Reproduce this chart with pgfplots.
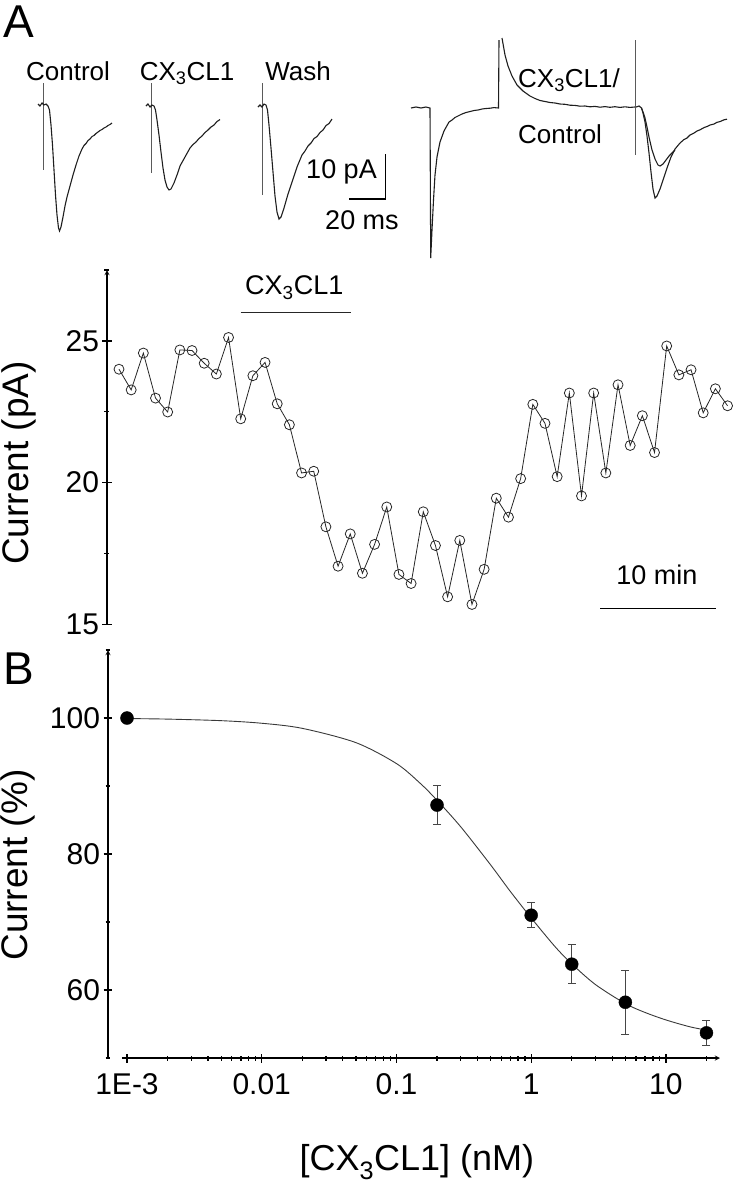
\documentclass[border=0pt]{standalone}
\usepackage{fontspec}
\setmainfont{Liberation Sans}
\usepackage{pgfplots}
\pgfplotsset{compat=1.18}
\definecolor{trace}{RGB}{30,30,30}
\definecolor{artef}{RGB}{90,90,90}
\newcommand{\cx}{CX\textsubscript{3}CL1}
\newcommand{\fs}[1]{\fontsize{#1}{#1}\selectfont}
\pgfplotsset{
  panel/.style={scale only axis, clip=false, anchor=south west,
    axis line style={-, line width=1.3pt}, tick style={black, line width=1.3pt},
    tick align=outside, major tick length=9pt, minor tick length=5pt,
    tick label style={font=\fs{30}},
    /pgf/number format/assume math mode=true},
}
\begin{document}
\begin{tikzpicture}[x=1pt,y=1pt]
\useasboundingbox (0pt,0pt) rectangle (734pt,-1200pt);
\node[anchor=base west, inner sep=0pt, font=\fs{46}] at (3pt,-37pt) {A};
\node[anchor=base west, inner sep=0pt, font=\fs{46}] at (3pt,-684pt) {B};

% sample traces, coordinates read in pixels of the figure
\begin{axis}[at={(0pt,0pt)}, anchor=north west, scale only axis, hide axis, clip=false,
  width=734pt, height=270pt, xmin=0, xmax=734, ymin=0, ymax=270, y dir=reverse]
\addplot[artef, line width=1pt] coordinates {(43.3,83)(43.3,170)};
\addplot[artef, line width=1pt] coordinates {(151,83)(151,173)};
\addplot[artef, line width=1pt] coordinates {(262.3,83)(262.3,195)};
\addplot[artef, line width=1pt] coordinates {(635.7,40)(635.7,155)};
\addplot[trace, line width=1.1pt] coordinates {
 (38,104)(40,106)(42,103)(44,105)(46,104)(48,106)(49.5,110)(51,125)(52.5,145)(54,170)
 (55.5,195)(57,215)(58.5,228)(59.5,231)(61,227)(63,217)(65,206)(67,197)(70,186)(73,175)
 (76,165)(79,156)(82,149)(84,145.5)(86,143.5)(88,140.5)(90,139)(92,136.5)(94,135.5)(96,133.5)
 (98,132)(100,130.5)(102,129.5)(104,128)(106,127)(108,125.5)(110,124.5)(112,123)};
\addplot[trace, line width=1.1pt] coordinates {
 (146,106)(148,104)(150,107)(152,105)(154,106)(155.5,110)(157,120)(159,135)(161,152)(163,168)
 (165,180)(167,187)(169,190)(171,189)(174,183)(177,175)(180,166)(185,157)(190,148)(193,144.5)
 (196,142)(199,138.5)(202,136)(205,132.5)(208,130)(211,127)(214,125)(217,121.5)(220,119.5)};
\addplot[trace, line width=1.1pt] coordinates {
 (258,107)(260,105)(262,107)(264,104)(266,105)(267.5,110)(269,125)(271,148)(273,172)(275,196)
 (277,212)(279,219)(281,217)(284,208)(288,194)(292,182)(297,167)(302,155)(305,151)(308,146)
 (311,143)(314,138.5)(317,136.5)(320,132.5)(323,130)(326,125.5)(329,123.5)(332,119)};
\addplot[trace, line width=1.1pt] coordinates {
 (411,108)(416,107)(421,108)(426,107)(430,108)(430.7,258)(432,230)(433.5,200)(435,175)(437,157)
 (440,142)(444,131)(449,122)(452,120)(455,117.5)(459,115.5)(462,114)(466,112.5)(470,111.5)(474,110.5)
 (478,110)(482,109)(486,108.5)(490,108.2)(494,107.6)(498.5,108)(499,40)};
\addplot[trace, line width=1.1pt] coordinates {
 (502,38)(505,55)(508,66)(512,76)(517,85)(523,91)(530,96)(535,98.5)(540,100.5)(545,101.5)
 (550,102.5)(555,103)(560,104)(565,104.3)(570,105.2)(575,105.4)(580,106.2)(585,106)(590,106.8)(595,106.4)
 (600,107.2)(605,106.6)(610,107.3)(615,106.7)(620,107.4)(625,106.8)(630,107.4)(635,107)};
\addplot[trace, line width=1.1pt] coordinates {
 (636,107)(639,106)(641.5,108)(643,113)(645,122)(647,136)(649,153)(651,172)(653,189)(655,198)
 (657,196)(660,189)(663,180)(667,168)(671,157)(675,149)(680,143)(684,139.5)(687,138)(690,135)
 (694,133)(697,131)(700,129.8)(704,127.6)(707,126.5)(710,125)(714,124)(717,122.3)(720,121.6)
 (724,119.8)(727,119.2)};
\addplot[trace, line width=1.1pt] coordinates {
 (641.5,108)(643,112)(645,118)(647,127)(649,137)(652,150)(655,159)(658,165)(660,166)(663,164)
 (666,160)(669,156)(673,152)(675,150)};
% scale bars
\addplot[black, line width=1.3pt] coordinates {(349.3,199)(385.7,199)(385.7,154)};
\node[anchor=base, font=\fs{26}] at (axis cs:68,80) {Control};
\node[anchor=base, font=\fs{26}] at (axis cs:187,80) {\cx};
\node[anchor=base, font=\fs{26}] at (axis cs:298,80) {Wash};
\node[anchor=base west, inner sep=0pt, font=\fs{26}] at (axis cs:518,87) {\cx/};
\node[anchor=base west, inner sep=0pt, font=\fs{26}] at (axis cs:518,143) {Control};
\node[anchor=base east, inner sep=0pt, font=\fs{27}] at (axis cs:377,178) {10 pA};
\node[anchor=base, inner sep=0pt, font=\fs{27}] at (axis cs:362,229) {20 ms};
\end{axis}

% time course
\begin{axis}[panel, at={(107pt,-624.3pt)}, width=627pt, height=354.3pt,
  xmin=-0.986, xmax=50.53, ymin=15, ymax=27.5,
  axis x line=none, axis y line=left,
  ytick={15,20,25}, minor ytick={17.5,22.5,27.5},
  ylabel={Current (pA)},
  every axis y label/.style={at={(axis description cs:-0.14,0.455)}, rotate=90, anchor=center, font=\fs{37}}]
\addplot[black!85, line width=0.8pt, mark=o, mark size=5pt,
  mark options={fill=white, line width=0.8pt}] coordinates {
 (0,24.00)(1,23.27)(2,24.57)(3,22.98)(4,22.49)(5,24.68)(6,24.66)(7,24.21)(8,23.83)(9,25.12)
 (10,22.25)(11,23.77)(12,24.24)(13,22.78)(14,22.04)(15,20.34)(16,20.40)(17,18.44)(18,17.05)(19,18.19)
 (20,16.80)(21,17.82)(22,19.14)(23,16.76)(24,16.44)(25,18.97)(26,17.78)(27,15.97)(28,17.96)(29,15.70)
 (30,16.94)(31,19.45)(32,18.78)(33,20.14)(34,22.76)(35,22.09)(36,20.21)(37,23.16)(38,19.53)(39,23.16)
 (40,20.34)(41,23.45)(42,21.31)(43,22.36)(44,21.06)(45,24.82)(46,23.80)(47,23.98)(48,22.46)(49,23.31)
 (50,22.71)};
\addplot[black!85, line width=1.2pt] coordinates {(10.0,26.0)(19.06,26.0)};
\node[anchor=base, font=\fs{27}] at (axis cs:14.4,26.62) {\cx};
\addplot[black, line width=1.2pt] coordinates {(39.52,15.55)(49.06,15.55)};
\node[anchor=base, font=\fs{27}] at (axis cs:44.2,16.41) {10 min};
\end{axis}

% dose response
\begin{axis}[panel, at={(122pt,-1058pt)}, width=598pt, height=408pt,
  xmode=log, xmin=0.000918, xmax=25.2, ymin=50, ymax=110,
  axis x line=bottom, axis y line=left, axis y line shift=14pt,
  xtick={0.001,0.01,0.1,1,10}, xticklabels={1E-3,0.01,0.1,1,10},
  xticklabel style={yshift=-8pt},
  minor xtick={0.0009,0.002,0.003,0.004,0.005,0.006,0.007,0.008,0.009,
    0.02,0.03,0.04,0.05,0.06,0.07,0.08,0.09,0.2,0.3,0.4,0.5,0.6,0.7,0.8,0.9,
    2,3,4,5,6,7,8,9,20},
  ytick={60,80,100}, minor ytick={50,70,90,110},
  xlabel={[\cx] (nM)}, ylabel={Current (\%)},
  every axis x label/.style={at={(axis description cs:0.493,-0.255)}, anchor=center, font=\fs{36}},
  every axis y label/.style={at={(axis description cs:-0.174,0.473)}, rotate=90, anchor=center, font=\fs{37}}]
\addplot[gray!45!black, line width=0.9pt, smooth] coordinates {
 (0.001,99.92)(0.002,99.84)(0.005,99.61)(0.01,99.23)(0.02,98.48)(0.05,96.38)(0.1,93.3)
 (0.15,90.4)(0.2,87.9)(0.3,84.0)(0.5,78.4)(0.7,74.5)(1,70.6)(1.5,66.4)(2,63.85)(3,60.8)
 (5,58.0)(7,56.7)(10,55.6)(15,54.6)(20,54.1)};
\addplot[black, only marks, mark=*, mark size=6.5pt,
  error bars/.cd, y dir=both, y explicit,
  error bar style={line width=1pt, gray!55!black},
  error mark options={rotate=90, mark size=4pt, line width=1pt, gray!55!black}]
  coordinates {
 (0.001,100) +- (0,0)
 (0.2,87.2) +- (0,2.9)
 (1,71.0) +- (0,1.8)
 (2,63.8) +- (0,2.9)
 (5,58.2) +- (0,4.7)
 (20,53.7) +- (0,1.8)};
\end{axis}
\end{tikzpicture}
\end{document}
